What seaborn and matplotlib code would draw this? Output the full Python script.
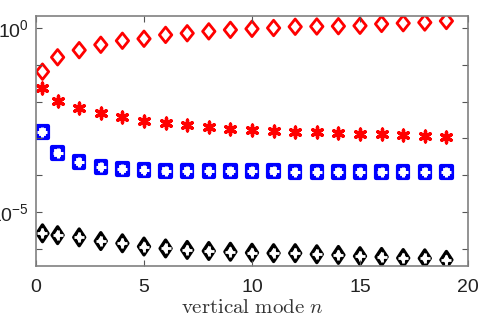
import numpy as np
import pandas as pd
import matplotlib
matplotlib.use("Agg")
import matplotlib.pyplot as plt
from matplotlib.path import Path
import seaborn as sns

# vertical mode index
n = [0.3, 1, 2, 3, 4, 5, 6, 7, 8, 9, 10, 11, 12, 13, 14, 15, 16, 17, 18, 19]

red_diamond = [0.065, 0.16, 0.25, 0.35, 0.45, 0.51, 0.65, 0.72, 0.81, 0.89,
               0.95, 1.0, 1.08, 1.10, 1.12, 1.15, 1.29, 1.35, 1.41, 1.55]
red_star = [2.3e-2, 1.07e-2, 6.6e-3, 4.8e-3, 3.7e-3, 3.0e-3, 2.57e-3, 2.24e-3, 2.0e-3, 1.78e-3,
            1.70e-3, 1.62e-3, 1.51e-3, 1.45e-3, 1.38e-3, 1.35e-3, 1.29e-3, 1.23e-3, 1.17e-3, 1.07e-3]
blue_square = [1.51e-3, 3.9e-4, 2.24e-4, 1.70e-4, 1.48e-4, 1.38e-4, 1.32e-4, 1.29e-4, 1.29e-4, 1.26e-4,
               1.26e-4, 1.26e-4, 1.23e-4, 1.23e-4, 1.23e-4, 1.20e-4, 1.20e-4, 1.20e-4, 1.20e-4, 1.20e-4]
black_diamond = [2.63e-6, 2.34e-6, 2.04e-6, 1.62e-6, 1.41e-6, 1.15e-6, 1.02e-6, 9.3e-7, 8.7e-7, 8.3e-7,
                 7.8e-7, 7.6e-7, 7.6e-7, 7.1e-7, 6.8e-7, 6.3e-7, 6.0e-7, 5.6e-7, 5.5e-7, 5.0e-7]

xticks = [0, 5, 10, 15, 20]
ytick_exps = [0, -1, -2, -3, -4, -5, -6]
ylabel_exps = [0, -5]

df = pd.DataFrame({"n": n, "rd": red_diamond, "rs": red_star,
                   "bs": blue_square, "kd": black_diamond})

plt.rcParams["font.family"] = ["Liberation Sans", "DejaVu Sans"]
plt.rcParams["mathtext.fontset"] = "cm"

diamond = Path([(0, 1), (0.8, 0), (0, -1), (-0.8, 0), (0, 1)], closed=True)
diamond_k = Path([(0, 1), (0.66, 0), (0, -1), (-0.66, 0), (0, 1)], closed=True)
rect = Path([(-0.85, -1), (0.85, -1), (0.85, 1), (-0.85, 1), (-0.85, -1)], closed=True)
plus = Path([(-1, 0), (1, 0), (0, -1), (0, 1)], [Path.MOVETO, Path.LINETO, Path.MOVETO, Path.LINETO])

fig = plt.figure(figsize=(4.87, 3.24), dpi=100)
ax = fig.add_axes([36 / 487, 58 / 324, 432 / 487, 250 / 324])

sns.scatterplot(data=df, x="n", y="rd", marker=diamond, s=125, facecolor="none",
                edgecolor="red", linewidth=2.0, ax=ax)
sns.scatterplot(data=df, x="n", y="rs", marker=(6, 2, 0), s=60, color="red",
                linewidth=2.4, ax=ax)
sns.scatterplot(data=df, x="n", y="bs", marker=rect, s=75, facecolor="none",
                edgecolor="blue", linewidth=3.0, ax=ax)
sns.scatterplot(data=df, x="n", y="bs", marker=plus, s=55, color="blue",
                linewidth=2.2, ax=ax)
sns.scatterplot(data=df, x="n", y="kd", marker=diamond_k, s=145, facecolor="none",
                edgecolor="black", linewidth=2.4, ax=ax)
sns.scatterplot(data=df, x="n", y="kd", marker=plus, s=55, color="black",
                linewidth=2.0, ax=ax)

ax.set_yscale("log")
ax.set_xlim(0, 20)
ax.set_ylim(3.4e-7, 2.12)
ax.set_xticks(xticks)
ax.set_xticklabels([str(t) for t in xticks])
ax.set_yticks([10.0 ** e for e in ytick_exps])
ax.set_yticklabels([r"$\mathregular{10^{%d}}$" % e if e in ylabel_exps else "" for e in ytick_exps])
ax.yaxis.set_minor_locator(matplotlib.ticker.NullLocator())

ax.tick_params(direction="in", top=True, right=True, length=4, width=0.8,
               color="#555555", labelsize=14, labelcolor="#222222")
ax.tick_params(axis="x", pad=9)
ax.tick_params(axis="y", pad=5)
for sp in ax.spines.values():
    sp.set_color("#808080")
    sp.set_linewidth(1.2)

ax.set_xlabel(r"$\mathrm{vertical\ mode}\ n$", fontsize=15, color="#333333", labelpad=2)
ax.set_ylabel("")

fig.savefig("out.png", dpi=100)
